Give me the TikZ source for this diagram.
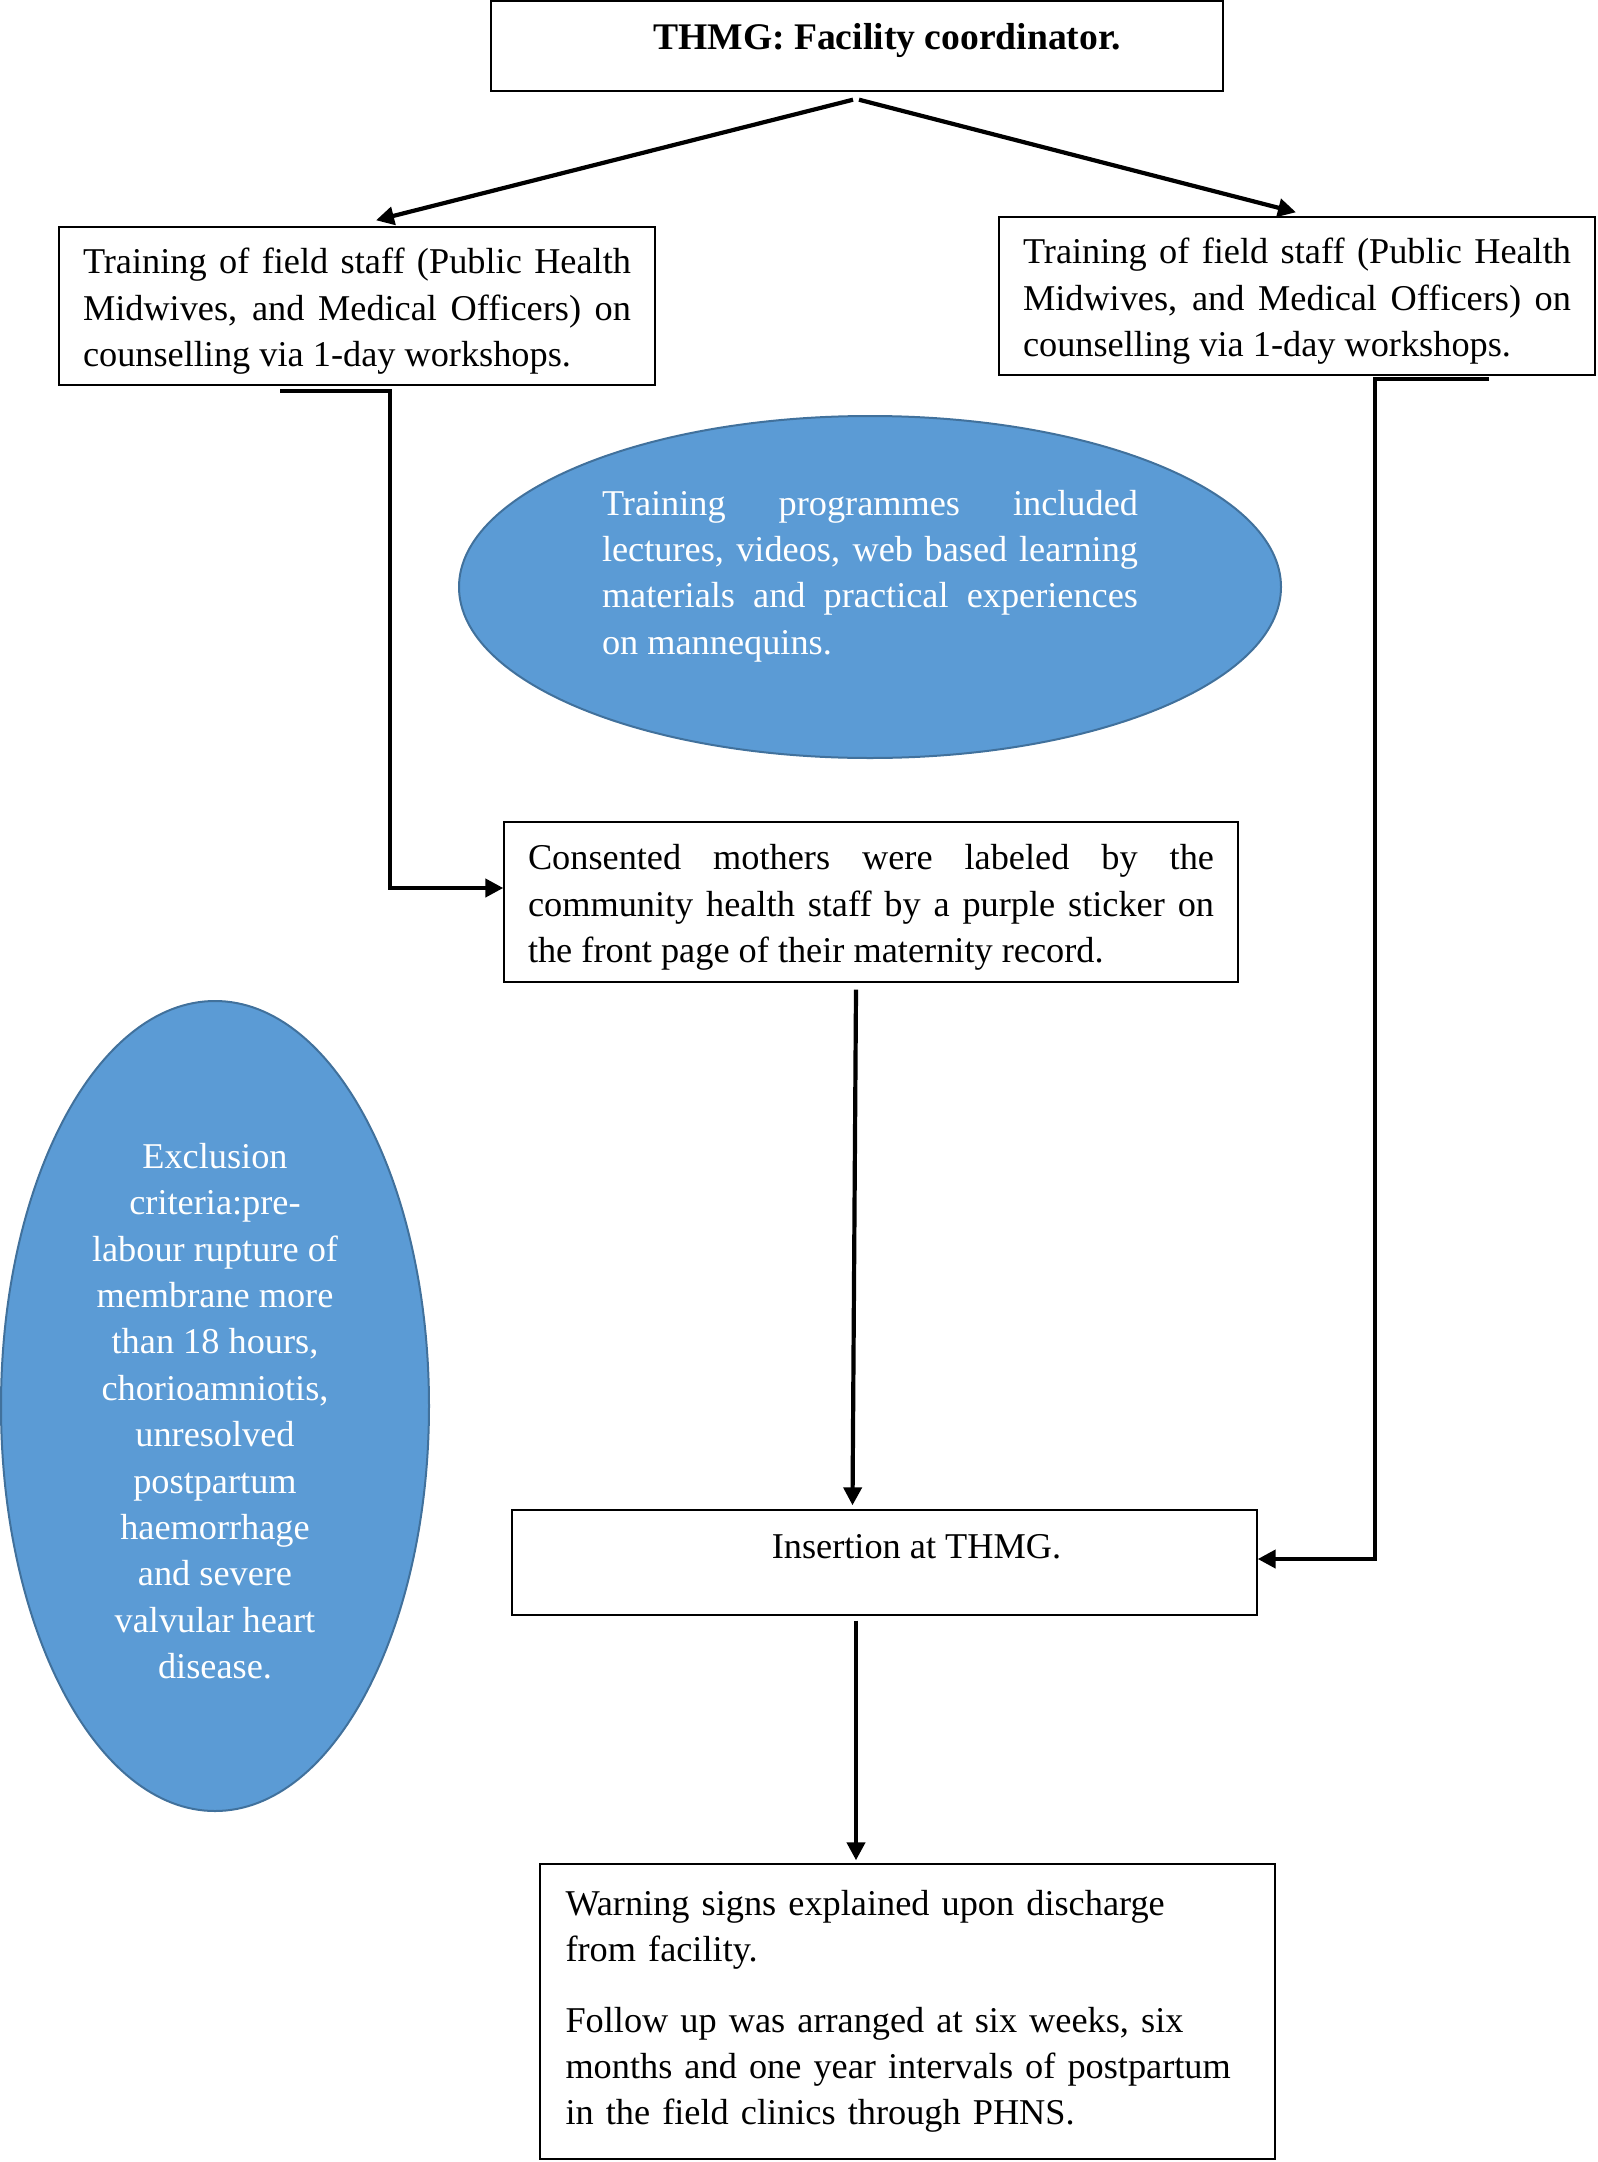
\documentclass[tikz,border=0pt]{standalone}
\usepackage{fontspec}
\setmainfont{Liberation Serif}
\usepackage{tikz}
\usetikzlibrary{arrows.meta,shapes.geometric,calc}

\begin{document}
\begin{tikzpicture}[x=0.5pt,y=0.5pt,yscale=-1,xscale=1,
    every node/.style={font=\fontsize{18.15}{23.2}\selectfont},
    flowbox/.style={rectangle,draw=black,line width=0.7pt,inner xsep=12pt,inner ysep=0pt},
    bubble/.style={ellipse,draw={rgb,255:red,65;green,113;blue,156},line width=1pt,fill={rgb,255:red,91;green,155;blue,213},text=white,inner sep=0pt},
    flowline/.style={line width=2.1pt,-{Triangle[length=9pt,width=9pt]}}]
    %set diagram to the size of the reference
    \useasboundingbox (0,0) rectangle (1598,2162);

    %Shape: Ellipse [training programmes]
    \node[bubble, minimum width=411pt, minimum height=171pt, text width=268pt, align=justify, text depth=84.5pt] (trainbub) at (870,587) {Training programmes included\linebreak lectures, videos, web based learning\linebreak materials and practical experiences\linebreak on mannequins.};
    %Shape: Ellipse [exclusion criteria]
    \node[bubble, minimum width=214pt, minimum height=405pt, align=center, text height=273pt] (exclbub) at (215,1406) {Exclusion\\ criteria:pre-\\ labour rupture of\\ membrane more\\ than 18 hours,\\ chorioamniotis,\\ unresolved\\ postpartum\\ haemorrhage\\ and severe\\ valvular heart\\ disease.};

    %Shape: Rectangle [coordinator]
    \node[flowbox, minimum width=366pt, minimum height=45pt, text depth=9.4pt, font=\fontsize{18.8}{23.2}\selectfont\bfseries] (coord) at (857,46) {\hspace*{30pt}THMG: Facility coordinator.};
    %Shape: Rectangle [training, left]
    \node[flowbox, text width=274pt, align=justify, text height=18pt, minimum width=298pt, minimum height=79pt] (lbox) at (357,306) {Training of field staff (Public Health\linebreak Midwives, and Medical Officers) on\linebreak counselling via 1-day workshops.};
    %Shape: Rectangle [training, right]
    \node[flowbox, text width=274pt, align=justify, text height=18pt, minimum width=298pt, minimum height=79pt] (rbox) at (1297,296) {Training of field staff (Public Health\linebreak Midwives, and Medical Officers) on\linebreak counselling via 1-day workshops.};
    %Shape: Rectangle [consented mothers]
    \node[flowbox, text width=343pt, align=justify, text height=18pt, minimum width=367pt, minimum height=80pt] (cons) at (871,902) {Consented mothers were labeled by the\linebreak community health staff by a purple sticker on\linebreak the front page of their maternity record.};
    %Shape: Rectangle [insertion]
    \node[flowbox, minimum width=372.5pt, minimum height=52.5pt, text depth=16pt] (ins) at (884.5,1562.5) {\hspace*{32pt}Insertion at THMG.};
    %Shape: Rectangle [warning signs]
    \node[flowbox, text width=342pt, align=left, inner xsep=12.5pt, minimum width=367.5pt, minimum height=147.5pt] (warn) at (907.5,2011.5) {Warning signs explained upon discharge\\ from facility.\\[12pt] Follow up was arranged at six weeks, six\\ months and one year intervals of postpartum\\ in the field clinics through PHNS.};

    %Straight Lines
    \draw[flowline] ($(coord.south)+(-4,8)$) -- ($(lbox.north)+(19,-6)$);
    \draw[flowline] ($(coord.south)+(2,8)$) -- ($(rbox.north)+(-1,-4)$);
    %Straight Lines
    \draw[flowline] ($(lbox.south)+(-77,5)$) -- ++(110,0) |- ($(cons.west)+(0,-14)$);
    \draw[flowline] ($(rbox.south)+(192,3)$) -- ++(-114,0) |- ($(ins.east)+(0,-3.5)$);
    %Straight Lines
    \draw[flowline] ($(cons.south)+(-15,7)$) -- ($(ins.north)+(-32,-4)$);
    \draw[flowline] ($(ins.south)+(-28.5,5)$) -- ($(warn.north)+(-51.5,-3)$);

\end{tikzpicture}
\end{document}
